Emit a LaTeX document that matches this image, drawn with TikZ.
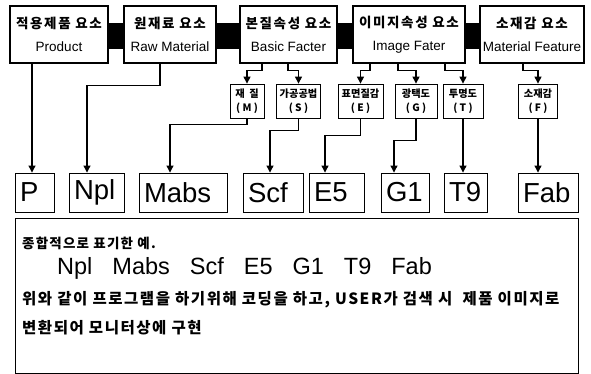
\documentclass[tikz,border=0pt]{standalone}
\usepackage{fontspec}
\setmainfont{Liberation Sans}
\newfontfamily\kr{Noto Sans CJK KR}
\usetikzlibrary{arrows.meta}
\tikzset{
  topbox/.style={draw, line width=1.6pt, minimum height=57pt, inner sep=0pt, align=center,
    font=\fontsize{13.5}{23}\selectfont},
  subbox/.style={draw, line width=0.8pt, minimum height=34pt, inner sep=0pt, align=center,
    font=\kr\bfseries\fontsize{10.2}{13.5}\selectfont},
  letterbox/.style={draw, line width=0.9pt, minimum height=39pt, inner xsep=5pt, inner ysep=0pt,
    align=left, font=\fontsize{27.5}{27.5}\selectfont},
  bar/.style={fill=black},
  arr/.style={line width=1.1pt, -{Triangle[length=7pt,width=7pt]}},
  ktext/.style={anchor=west, inner sep=0pt, font=\kr\bfseries\fontsize{15.5}{17}\selectfont\addfontfeature{LetterSpace=10}},
}
\newcommand{\ktl}[1]{{\kr\bfseries\addfontfeature{LetterSpace=12}#1}}
\begin{document}
\begin{tikzpicture}[x=1pt,y=-1pt]
\useasboundingbox (0,0) rectangle (591,374);
% top boxes
\node[topbox, minimum width=98pt]  (t1) at (59,34.5)    {\ktl{적용제품 요소}\\Product};
\node[topbox, minimum width=92pt]  (t2) at (170,34.5)   {\ktl{원재료 요소}\\Raw Material};
\node[topbox, minimum width=97pt]  (t3) at (288.5,34.5) {\ktl{본질속성 요소}\\Basic Facter};
\node[topbox, minimum width=112pt] (t4) at (409,34.5)   {\ktl{이미지속성 요소}\\Image Fater};
\node[topbox, minimum width=104pt] (t5) at (532,34.5)   {\ktl{소재감 요소}\\Material Feature};
% black bars
\fill[bar] (t1.east |- 0,23) rectangle (t2.west |- 0,49);
\fill[bar] (t2.east |- 0,23) rectangle (t3.west |- 0,49);
\fill[bar] (t3.east |- 0,23) rectangle (t4.west |- 0,49);
\fill[bar] (t4.east |- 0,23) rectangle (t5.west |- 0,49);
% sub boxes
\node[subbox, minimum width=34pt] (sM) at (247,101)   {재\ \ 질\\(\ M\ )};
\node[subbox, minimum width=44pt] (sS) at (298.5,101) {가공공법\\(\ S\ )};
\node[subbox, minimum width=45pt] (sE) at (360.5,101) {표면질감\\(\ E\ )};
\node[subbox, minimum width=42pt] (sG) at (416,101)   {광택도\\(\ G\ )};
\node[subbox, minimum width=40pt] (sT) at (463,101)   {투명도\\(\ T\ )};
\node[subbox, minimum width=39pt] (sF) at (538,101)   {소재감\\(\ F\ )};
% letter boxes
\node[letterbox, text width=29pt] (bP) at (34.5,192.5)  {P};
\node[letterbox, text width=45pt] (bN) at (96.5,192.5)  {Npl};
\node[letterbox, text width=78pt] (bM) at (183,192.5)   {Mabs};
\node[letterbox, text width=50pt] (bS) at (273,192.5)   {Scf};
\node[letterbox, text width=45pt] (bE) at (336.5,192.5) {E5};
\node[letterbox, text width=38pt] (bG) at (405,192.5)   {G1};
\node[letterbox, text width=33pt] (bT) at (465.5,192.5) {T9};
\node[letterbox, text width=50pt] (bF) at (548,192.5)   {Fab};
% connectors top -> sub
\draw[arr] (t3.south -| 262,0) -- ++(0,7) -| (sM.north);
\draw[arr] (t3.south -| 288,0) -- ++(0,7) -| (sS.north);
\draw[arr] (t4.south -| 370,0) -- ++(0,7) -| (sE.north);
\draw[arr] (t4.south -| 398,0) -- ++(0,7) -| (sG.north);
\draw[arr] (t4.south -| 445,0) -- ++(0,7) -| (sT.north);
\draw[arr] (t5.south -| 523,0) -- ++(0,7) -| (sF.north);
% connectors -> letter boxes
\draw[arr] (t1.south -| 32,0) -- (bP.north -| 32,0);
\draw[arr] (t2.south -| 160,0) -- ++(0,22) -| (bN.north -| 87,0);
\draw[arr] (sM.south) -- ++(0,6) -| (bM.north -| 170,0);
\draw[arr] (sS.south) -- ++(0,12) -| (bS.north -| 270,0);
\draw[arr] (sE.south) -- ++(0,17) -| (bE.north -| 325,0);
\draw[arr] (sG.south) -- ++(0,22) -| (bG.north -| 394,0);
\draw[arr] (sT.south) -- (sT.south |- bT.north);
\draw[arr] (sF.south) -- (sF.south |- bF.north);
% big box
\node[draw, line width=1pt, minimum width=563pt, minimum height=155pt, inner sep=0pt, anchor=north west] (big) at (15,218) {};
\node[ktext, font=\kr\bfseries\fontsize{13.5}{15}\selectfont\addfontfeature{LetterSpace=9}] (l1) at (22,243) {종합적으로 표기한 예.};
\node[anchor=west, inner sep=0pt, font=\fontsize{23.5}{23.5}\selectfont] (l2) at (57,268)
  {Npl\hspace{20pt}Mabs\hspace{20pt}Scf\hspace{20pt}E5\hspace{20pt}G1\hspace{20pt}T9\hspace{20pt}Fab};
\node[ktext] (l3) at (22,300) {위와 같이 프로그램을 하기위해 코딩을 하고, USER가 검색 시\ \ 제품 이미지로};
\node[ktext] (l4) at (22,328) {변환되어 모니터상에 구현};
\end{tikzpicture}
\end{document}
